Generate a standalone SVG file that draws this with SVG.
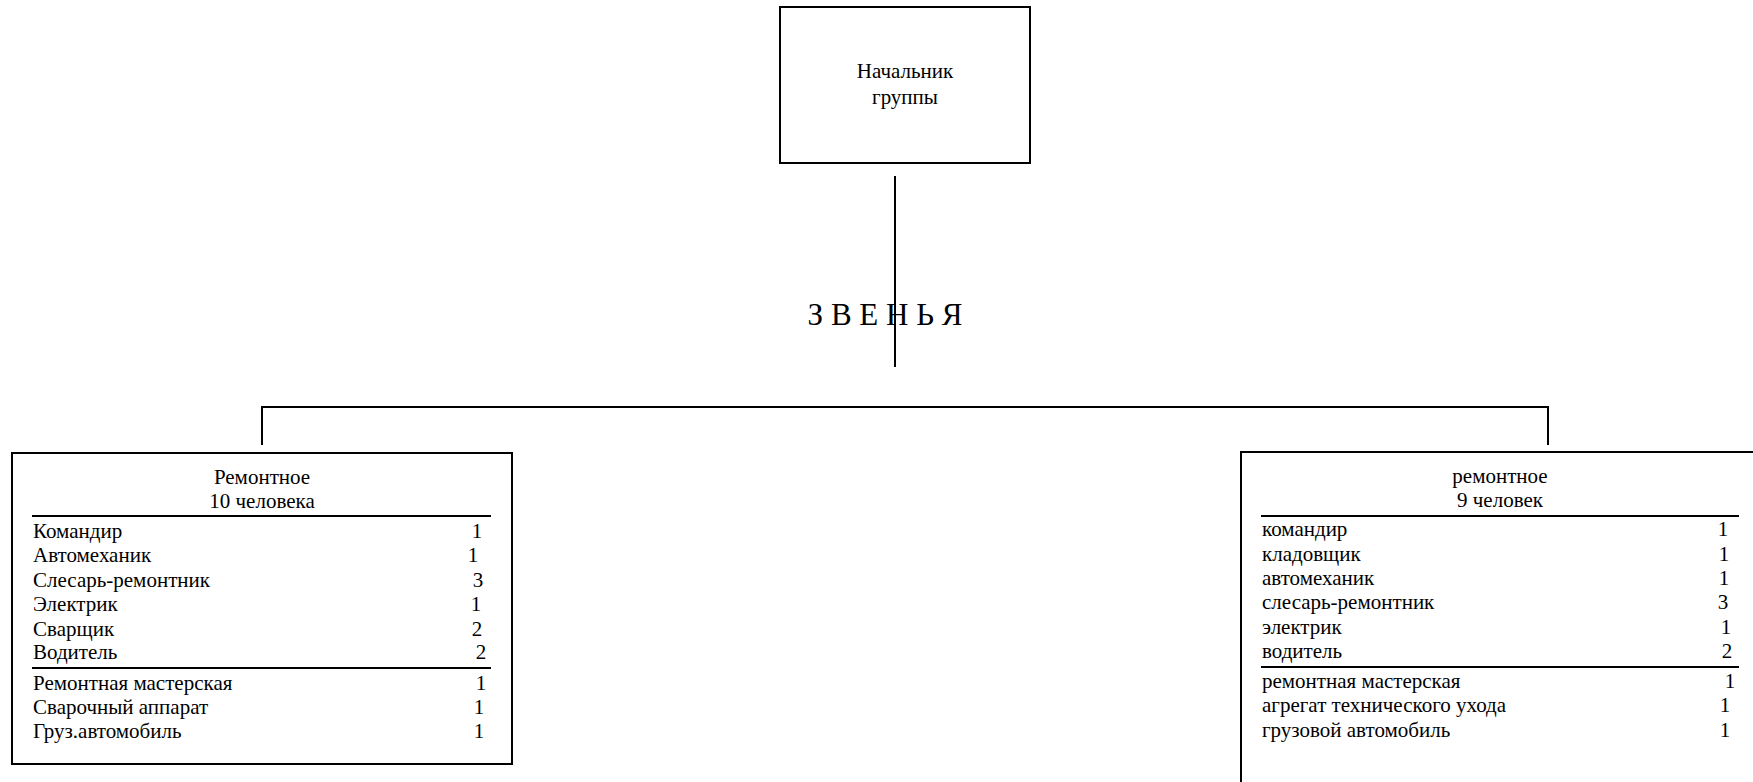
<svg xmlns="http://www.w3.org/2000/svg" width="1753" height="782" viewBox="0 0 1753 782" font-family="'Liberation Serif', 'Times New Roman', serif">
<style>
.box{fill:#fff;stroke:#000;stroke-width:2}
.ln{stroke:#000;stroke-width:2;fill:none}
.t{font-size:21px;font-family:'Liberation Serif', 'Times New Roman', serif}
.c{text-anchor:middle}
.h{font-size:31px;text-anchor:middle;font-family:'Liberation Serif', 'Times New Roman', serif}
.hd{font-size:21px;text-anchor:middle;font-family:'Liberation Serif', 'Times New Roman', serif}
</style>
<rect width="1753" height="782" fill="#fff"/>
<g id="connectors">
<line class="ln" x1="895" y1="176" x2="895" y2="367"/>
<polyline class="ln" points="262,445 262,407 1548,407 1548,445"/>
</g>
<text class="h" x="885" y="325" id="label-zvenya">З В Е Н Ь Я</text>
<g id="node-head">
<rect class="box" x="780" y="7" width="250" height="156"/>
<text class="hd" x="905" y="78">Начальник</text>
<text class="hd" x="905" y="104">группы</text>
</g>
<g id="node-left">
<rect class="box" x="12" y="453" width="500" height="311"/>
<text class="hd" x="262" y="484">Ремонтное</text>
<text class="hd" x="262" y="508">10 человека</text>
<line class="ln" x1="32" y1="516" x2="491" y2="516"/>
<line class="ln" x1="32" y1="668" x2="491" y2="668"/>
<g class="t">
<text x="33" y="538">Командир</text>
<text x="33" y="562">Автомеханик</text>
<text x="33" y="587">Слесарь-ремонтник</text>
<text x="33" y="611">Электрик</text>
<text x="33" y="636">Сварщик</text>
<text x="33" y="659">Водитель</text>
<text x="33" y="690">Ремонтная мастерская</text>
<text x="33" y="714">Сварочный аппарат</text>
<text x="33" y="738">Груз.автомобиль</text>
</g>
<g class="t c">
<text x="477" y="538">1</text>
<text x="473" y="562">1</text>
<text x="478" y="587">3</text>
<text x="476" y="611">1</text>
<text x="477" y="636">2</text>
<text x="481" y="659">2</text>
<text x="481" y="690">1</text>
<text x="479" y="714">1</text>
<text x="479" y="738">1</text>
</g>
</g>
<g id="node-right">
<rect class="box" x="1241" y="452" width="600" height="400"/>
<text class="hd" x="1500" y="483">ремонтное</text>
<text class="hd" x="1500" y="507">9 человек</text>
<line class="ln" x1="1261" y1="516" x2="1739" y2="516"/>
<line class="ln" x1="1261" y1="667" x2="1739" y2="667"/>
<g class="t">
<text x="1262" y="536">командир</text>
<text x="1262" y="561">кладовщик</text>
<text x="1262" y="585">автомеханик</text>
<text x="1262" y="609">слесарь-ремонтник</text>
<text x="1262" y="634">электрик</text>
<text x="1262" y="658">водитель</text>
<text x="1262" y="688">ремонтная мастерская</text>
<text x="1262" y="712">агрегат технического ухода</text>
<text x="1262" y="737">грузовой автомобиль</text>
</g>
<g class="t c">
<text x="1723" y="536">1</text>
<text x="1724" y="561">1</text>
<text x="1724" y="585">1</text>
<text x="1723" y="609">3</text>
<text x="1726" y="634">1</text>
<text x="1727" y="658">2</text>
<text x="1730" y="688">1</text>
<text x="1725" y="712">1</text>
<text x="1725" y="737">1</text>
</g>
</g>
</svg>
